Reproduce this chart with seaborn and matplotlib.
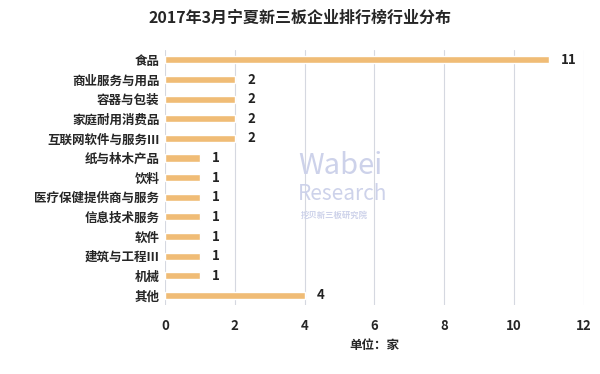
import seaborn as sns
import matplotlib.pyplot as plt

# industries and number of companies
industries = ['食品', '商业服务与用品', '容器与包装', '家庭耐用消费品', '互联网软件与服务Ⅲ',
              '纸与林木产品', '饮料', '医疗保健提供商与服务', '信息技术服务', '软件',
              '建筑与工程Ⅲ', '机械', '其他']
counts = [11, 2, 2, 2, 2, 1, 1, 1, 1, 1, 1, 1, 4]
x_ticks = [0, 2, 4, 6, 8, 10, 12]

sns.set_style('white')
plt.rcParams['font.family'] = ['Noto Sans CJK SC', 'DejaVu Sans']
plt.rcParams['font.weight'] = 'bold'

fig = plt.figure(figsize=(6, 3.74), dpi=100)
ax = fig.add_axes([0.275, 0.184, 0.698, 0.682])

sns.barplot(x=counts, y=industries, orient='h', color='#F0BC76', width=0.36,
            saturation=1, ax=ax, zorder=3)

for i, v in enumerate(counts):
    ax.text(v + 0.35, i, str(v), va='center', ha='left', fontsize=9.5,
            fontweight='bold', color='#222222', zorder=4)

ax.set_xlim(0, 12)
ax.set_ylim(12.5, -0.5)
ax.set_xticks(x_ticks)
ax.set_xticklabels([str(t) for t in x_ticks], fontsize=9.5, fontweight='bold')
ax.tick_params(axis='y', labelsize=9, length=0, pad=4)
ax.tick_params(axis='x', length=0, pad=10)
ax.grid(axis='x', color='#D5D8E0', linewidth=0.8, zorder=0)
for s in ax.spines.values():
    s.set_visible(False)
ax.set_ylabel('')
ax.set_xlabel('单位：家', fontsize=9, fontweight='bold', labelpad=4)

# faint watermark
wm = '#CDD2EA'
fig.text(0.497, 0.555, 'Wabei', fontsize=21, color=wm, ha='left', va='center', fontweight='normal', zorder=1)
fig.text(0.497, 0.482, 'Research', fontsize=15, color=wm, ha='left', va='center', fontweight='normal', zorder=1)
fig.text(0.502, 0.425, '挖贝新三板研究院', fontsize=6, color=wm, ha='left', va='center', zorder=1)

fig.suptitle('2017年3月宁夏新三板企业排行榜行业分布', fontsize=11.5, fontweight='bold', y=0.975)

plt.savefig('out.png', dpi=100)
